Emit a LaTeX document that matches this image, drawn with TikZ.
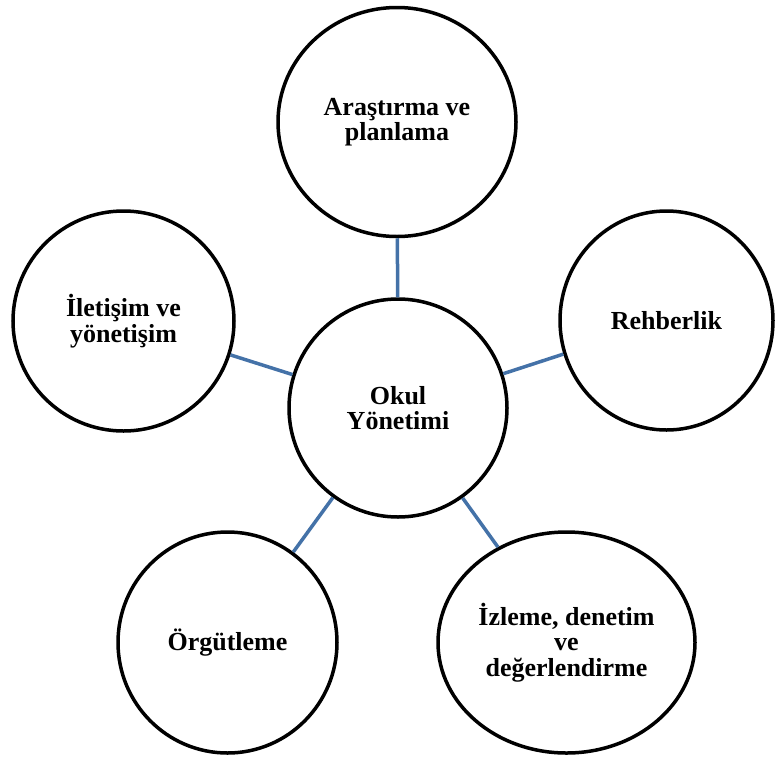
\documentclass[tikz,border=0pt]{standalone}
\usepackage{fontspec}
\setmainfont{Liberation Serif}
\usetikzlibrary{shapes.geometric}
\definecolor{linkblue}{RGB}{68,114,168}
\tikzset{
  bubble/.style={ellipse, draw=black, line width=3.5pt, fill=white, inner sep=0pt,
    align=center, font=\fontsize{26}{25.5}\selectfont\bfseries},
  link/.style={draw=linkblue, line width=3.5pt}
}
\begin{document}
\begin{tikzpicture}[x=1pt,y=-1pt]
\useasboundingbox (0,0) rectangle (776,758);
\node[bubble, minimum width=238pt, minimum height=229pt] (plan) at (397,122) {Araştırma ve\\planlama};
\node[bubble, minimum width=218pt, minimum height=218pt] (okul) at (398,408) {Okul\\Yönetimi};
\node[bubble, minimum width=213pt, minimum height=219pt] (rehber) at (666.5,320.5) {Rehberlik};
\node[bubble, minimum width=221pt, minimum height=220pt] (ilet) at (123.5,321) {İletişim ve\\yönetişim};
\node[bubble, minimum width=219pt, minimum height=221pt] (orgut) at (227.5,642.5) {Örgütleme};
\node[bubble, minimum width=257pt, minimum height=221pt] (izle) at (566.5,642.5) {İzleme, denetim\\ve\\değerlendirme};
\draw[link] (okul) -- (plan);
\draw[link] (okul) -- (rehber);
\draw[link] (okul) -- (ilet);
\draw[link] (okul) -- (orgut);
\draw[link] (okul) -- (izle);
\end{tikzpicture}
\end{document}
